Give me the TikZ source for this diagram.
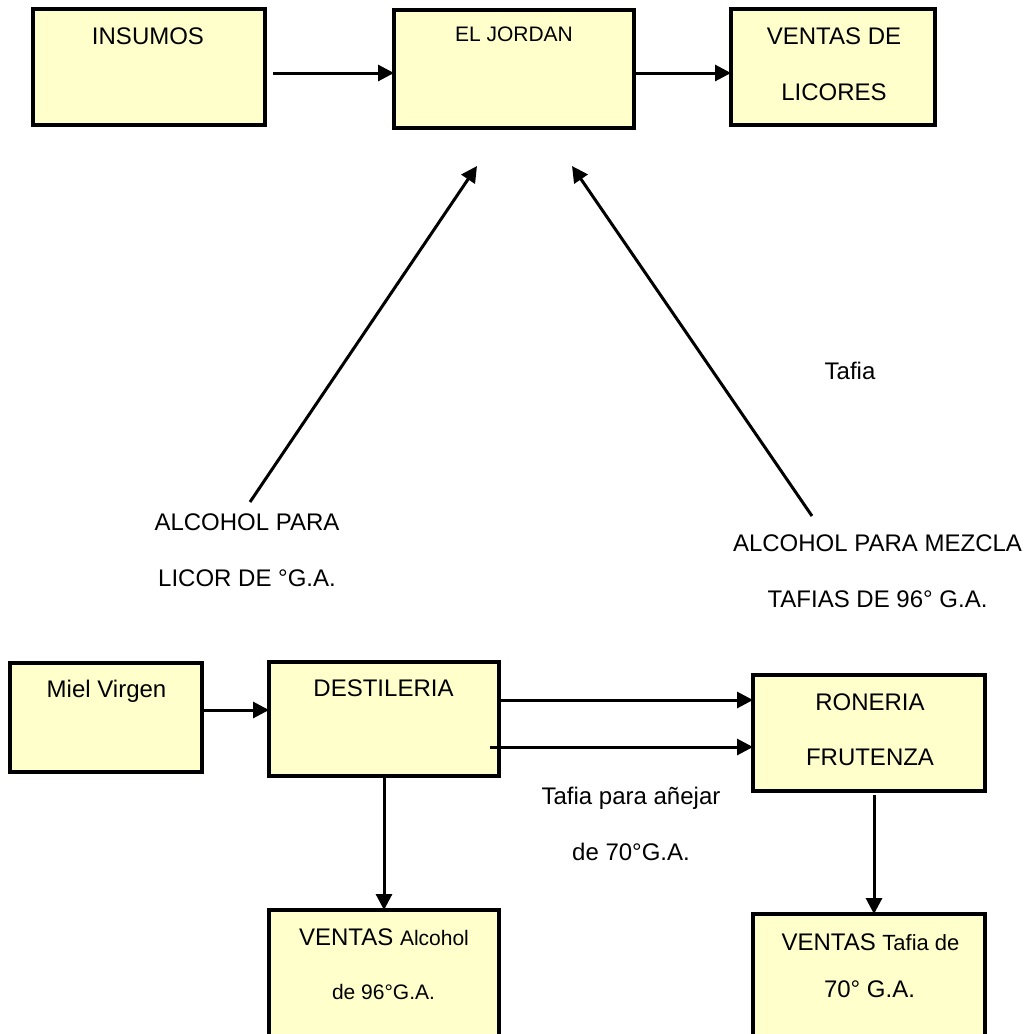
\documentclass[tikz,border=0pt]{standalone}
\usepackage{fontspec}
\setmainfont{Liberation Sans}
\usetikzlibrary{arrows.meta}
\definecolor{boxfill}{HTML}{FFFFCC}
\begin{document}
\begin{tikzpicture}[x=1pt,y=-1pt,
  box/.style={draw=black, line width=3.8pt, fill=boxfill, inner sep=0pt, outer sep=0pt},
  arr/.style={line width=3pt, -{Triangle[length=16pt,width=16pt]}},
  big/.style={font=\fontsize{24}{28}\selectfont, anchor=base, inner sep=0pt},
  mid/.style={font=\fontsize{21}{25}\selectfont, anchor=base, inner sep=0pt}]
\useasboundingbox (0,0) rectangle (1027,1034);
% boxes
\node[box, minimum width=232pt, minimum height=116pt] (ins) at (149,67) {};
\node[box, minimum width=240pt, minimum height=118pt] (jor) at (514,69) {};
\node[box, minimum width=204pt, minimum height=116pt] (ven) at (833,67) {};
\node[box, minimum width=192pt, minimum height=109pt] (miel) at (106,717.5) {};
\node[box, minimum width=230pt, minimum height=114pt] (dest) at (384,719) {};
\node[box, minimum width=232pt, minimum height=116pt] (ron) at (869,733) {};
\node[box, minimum width=230pt, minimum height=130pt] (va) at (384,975) {};
\node[box, minimum width=232pt, minimum height=126pt] (vt) at (869,977) {};
% box texts
\node[big] (insT) at (148,44) {INSUMOS};
\node[mid] (jorT) at (514,41) {EL JORDAN};
\node[big] (venT1) at (834,44.5) {VENTAS DE};
\node[big] (venT2) at (834,100) {LICORES};
\node[big] (mielT) at (106.5,697) {Miel Virgen};
\node[big] (destT) at (383.5,696) {DESTILERIA};
\node[big] (ronT1) at (870,710) {RONERIA};
\node[big] (ronT2) at (870,765) {FRUTENZA};
\node[big] (vaT1) at (384,945) {VENTAS {\fontsize{21}{25}\selectfont Alcohol}};
\node[mid] (vaT2) at (383.5,999) {de 96°G.A.};
\node[big] (vtT1) at (870.5,950) {VENTAS {\fontsize{22}{26}\selectfont Tafia de}};
\node[big] (vtT2) at (869.5,997) {70° G.A.};
% free labels
\node[big] (l1a) at (247,530) {ALCOHOL PARA};
\node[big] (l1b) at (247,586.5) {LICOR DE °G.A.};
\node[big] (tafia) at (850,379) {Tafia};
\node[big] (l2a) at (877.5,551) {ALCOHOL PARA MEZCLA};
\node[big] (l2b) at (877.5,607) {TAFIAS DE 96° G.A.};
\node[big] (l3a) at (631,804) {Tafia para añejar};
\node[big] (l3b) at (631,860) {de 70°G.A.};
% free ends of the diagonal connectors
\coordinate (dL0) at (250,502);
\coordinate (dL1) at (477,166);
\coordinate (dR0) at (812,516);
\coordinate (dR1) at (572,166);
% connectors
\draw[arr] ([xshift=8pt,yshift=-6pt]ins.east) -- ([yshift=-4pt]jor.west);
\draw[arr] ([yshift=-4pt]jor.east) -- ([yshift=-6pt]ven.west);
\draw[arr] (dL0) -- (dL1);
\draw[arr] (dR0) -- (dR1);
\draw[arr] ([yshift=7.5pt]miel.east) -- ([yshift=9pt]dest.west);
\draw[arr] ([yshift=19pt]dest.east) -- ([yshift=33pt]ron.west);
\draw[arr] ([xshift=-9pt,yshift=-28pt]dest.east) -- ([yshift=-14pt]ron.west);
\draw[arr] (dest.south) -- (va.north);
\draw[arr] ([xshift=5pt,yshift=-4pt]ron.south) -- ([xshift=5pt]vt.north);
\end{tikzpicture}
\end{document}
